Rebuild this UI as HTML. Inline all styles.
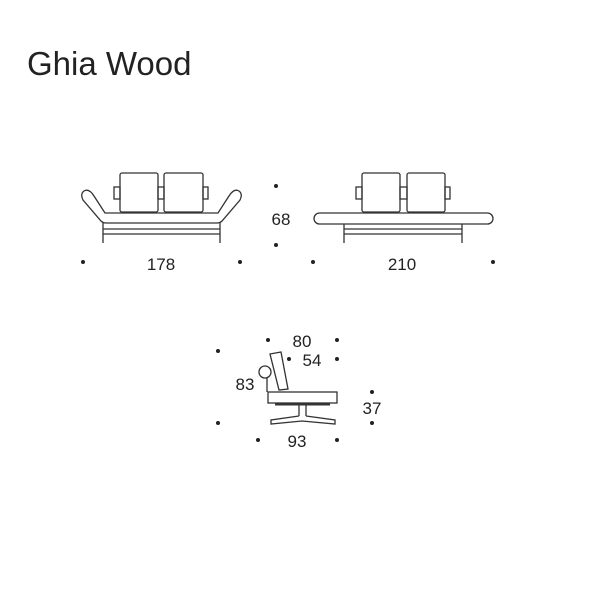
<!DOCTYPE html>
<html><head><meta charset="utf-8"><style>
html,body{margin:0;padding:0;background:#fff;}
svg{display:block}
text{font-family:"Liberation Sans",sans-serif;fill:#222}
</style></head><body>
<svg width="600" height="600" viewBox="0 0 600 600" xmlns="http://www.w3.org/2000/svg">
<rect width="600" height="600" fill="#fff"/>
<text x="27" y="75" font-size="33">Ghia Wood</text>
<g fill="none" stroke="#333" stroke-width="1.3">
<!-- sofa 1 -->
<rect x="120" y="173" width="38" height="39" rx="2"/>
<rect x="164" y="173" width="39" height="39" rx="2"/>
<rect x="114" y="187" width="6" height="12"/>
<rect x="158" y="187" width="6" height="12"/>
<rect x="203" y="187" width="5" height="12"/>
<path d="M105,213 L94,196 Q89,188 84,191 Q80,194 83,200 L101,221 Q103,223 106,223 L217,223 Q220,223 222,221 L240,200 Q243,194 239,191 Q234,188 229,196 L218,213 Z"/>
<path d="M103,222 V243 M220,222 V243 M103,229 H220 M103,234 H220"/>
<!-- sofa 2 -->
<rect x="362" y="173" width="38" height="39" rx="2"/>
<rect x="407" y="173" width="38" height="39" rx="2"/>
<rect x="356" y="187" width="6" height="12"/>
<rect x="400" y="187" width="7" height="12"/>
<rect x="445" y="187" width="5" height="12"/>
<rect x="314" y="213" width="179" height="11" rx="5.5"/>
<path d="M344,224 V243 M462,224 V243 M344,229 H462 M344,234 H462"/>
<!-- side view -->
<path d="M270,354 L281,352 L288,389 L279,390 Z"/>
<circle cx="265" cy="372" r="6"/>
<path d="M267,378 V392"/>
<rect x="268" y="392" width="69" height="11"/>
<path d="M275,404.5 H330" stroke-width="2"/>
<path d="M299,404 V416 M306,404 V416 M299,416 L271,420 V424 L302,421 L335,424 V420 L306,416"/>
</g>
<g fill="#222">
<circle cx="276" cy="186" r="2"/><circle cx="276" cy="245" r="2"/>
<circle cx="83" cy="262" r="2"/><circle cx="240" cy="262" r="2"/>
<circle cx="313" cy="262" r="2"/><circle cx="493" cy="262" r="2"/>
<circle cx="268" cy="340" r="2"/><circle cx="337" cy="340" r="2"/>
<circle cx="289" cy="359" r="2"/><circle cx="337" cy="359" r="2"/>
<circle cx="218" cy="351" r="2"/><circle cx="218" cy="423" r="2"/>
<circle cx="372" cy="392" r="2"/><circle cx="372" cy="423" r="2"/>
<circle cx="258" cy="440" r="2"/><circle cx="337" cy="440" r="2"/>
</g>
<g font-size="17" text-anchor="middle">
<text x="281" y="225">68</text>
<text x="161" y="270">178</text>
<text x="402" y="270">210</text>
<text x="302" y="347">80</text>
<text x="312" y="366">54</text>
<text x="245" y="390">83</text>
<text x="372" y="414">37</text>
<text x="297" y="447">93</text>
</g>
</svg>
</body></html>
